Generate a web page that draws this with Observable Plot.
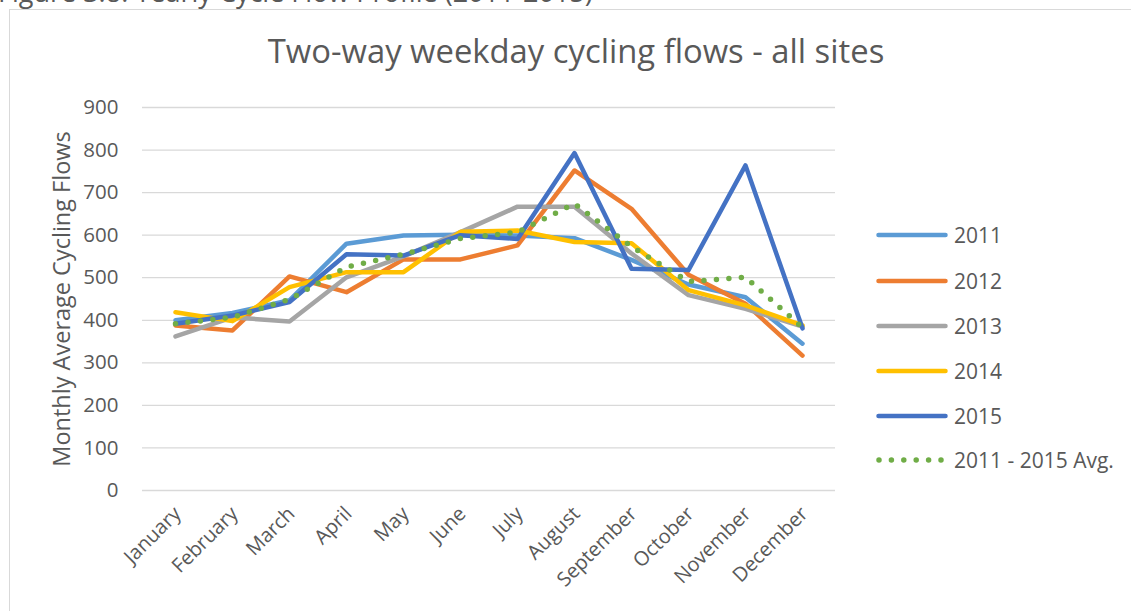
<!DOCTYPE html>
<html><head><meta charset="utf-8">
<script src="https://cdn.jsdelivr.net/npm/d3@7"></script>
<script src="https://cdn.jsdelivr.net/npm/@observablehq/plot@0.6"></script>
<style>
body{margin:0;background:#fff;font-family:"Open Sans",sans-serif;color:#595959;}
#wrap{position:relative;width:1131px;height:611px;overflow:hidden;background:#fff;}
#box{position:absolute;left:9px;top:9px;width:1200px;height:700px;border:1.3px solid #d9d9d9;box-sizing:border-box;}
#cap{position:absolute;left:-2px;top:-22px;font-size:27px;line-height:1;white-space:nowrap;}
#title{position:absolute;left:576px;top:35px;transform:translateX(-50%);font-size:32.8px;line-height:1;white-space:nowrap;}
#chart{position:absolute;left:0;top:0;}
.lg{position:absolute;left:876px;height:30px;display:flex;align-items:center;font-size:21px;line-height:30px;white-space:nowrap;}
.lg svg{margin-right:6px;}
</style>
</head><body>
<div id="wrap">
  <div id="cap">Figure 3.8: Yearly Cycle Flow Profile (2011-2015)</div>
  <div id="box"></div>
  <div id="chart"></div>
  <div id="title">Two-way weekday cycling flows - all sites</div>
  <div id="legend"></div>
</div>
<script>
const months = ["January","February","March","April","May","June","July","August","September","October","November","December"];
const series = ["2011","2012","2013","2014","2015"];
const v2011 = [400, 417, 447, 580, 599, 601, 599, 593, 542, 484, 454, 345];
const v2012 = [388, 376, 503, 466, 543, 543, 576, 752, 662, 507, 439, 317];
const v2013 = [362, 407, 397, 501, 550, 607, 667, 667, 557, 459, 427, 385];
const v2014 = [419, 398, 478, 513, 513, 608, 611, 584, 581, 471, 435, 388];
const v2015 = [392, 411, 443, 555, 552, 600, 591, 793, 521, 518, 764, 381];
const avgLabel = "2011 - 2015 Avg.";
const avgValues = [392, 407, 449, 525, 555, 592, 607, 674, 573, 491, 501, 383];
const colors = ["#5B9BD5","#ED7D31","#A5A5A5","#FFC000","#4472C4"];
const avgColor = "#70AD47";
const yTicks = [0,100,200,300,400,500,600,700,800,900];
const yLabel = "Monthly Average Cycling Flows";

const seriesValues = [v2011, v2012, v2013, v2014, v2015];
const rows = [];
seriesValues.forEach((arr,i)=>arr.forEach((v,j)=>rows.push({series:series[i], month:months[j], value:v})));
const avgRows = avgValues.map((v,j)=>({month:months[j], value:v}));

const chart = Plot.plot({
  width:1131, height:611,
  marginLeft:142, marginRight:296, marginTop:107, marginBottom:121,
  style:{fontFamily:"Open Sans", color:"#595959", background:"transparent", overflow:"visible"},
  x:{type:"point", domain:months, padding:0.5},
  y:{domain:[0,900]},
  color:{domain:series, range:colors},
  marks:[
    Plot.gridY(yTicks,{stroke:"#d9d9d9", strokeOpacity:1, strokeWidth:1.3}),
    Plot.axisY(yTicks,{tickSize:0, tickPadding:24, fontSize:20.5, label:null, fill:"#595959"}),
    Plot.axisX({tickRotate:-45, tickSize:0, tickPadding:20, dx:2, fontSize:20, label:null, fill:"#595959"}),
    Plot.text([yLabel],{frameAnchor:"left", textAnchor:"middle", dx:-80, rotate:-90, fontSize:23.5, fill:"#595959"}),
    Plot.lineY(rows,{x:"month", y:"value", z:"series", stroke:"series", strokeWidth:4.5, strokeLinecap:"round", strokeLinejoin:"round"}),
    Plot.lineY(avgRows,{x:"month", y:"value", stroke:avgColor, strokeWidth:5.5, strokeDasharray:"0 12.5", strokeLinecap:"round", strokeLinejoin:"round"})
  ]
});
document.getElementById("chart").appendChild(chart);

const legendCenters = [235.3, 280.7, 325.7, 370.7, 415.7, 460];
const legend = document.getElementById("legend");
const items = series.map((s,i)=>({label:s, color:colors[i], dotted:false})).concat([{label:avgLabel, color:avgColor, dotted:true}]);
items.forEach((it,i)=>{
  const d = document.createElement("div");
  d.className = "lg";
  d.style.top = (legendCenters[i]-15)+"px";
  const line = it.dotted
    ? `<line x1="3" y1="6" x2="66" y2="6" stroke="${it.color}" stroke-width="5.5" stroke-linecap="round" stroke-dasharray="0 12.4"/>`
    : `<line x1="2.5" y1="6" x2="69.5" y2="6" stroke="${it.color}" stroke-width="4.5" stroke-linecap="round"/>`;
  d.innerHTML = `<svg width="72" height="12">${line}</svg><span>${it.label}</span>`;
  legend.appendChild(d);
});
</script>
</body></html>
